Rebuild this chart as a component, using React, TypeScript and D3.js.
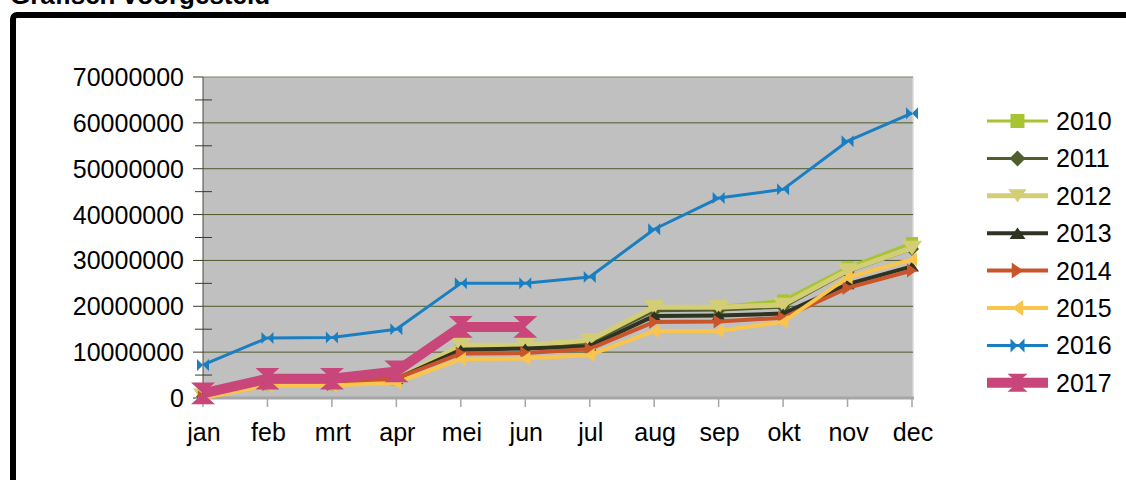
import React from "react";
import * as d3 from "d3";

const months = ["jan", "feb", "mrt", "apr", "mei", "jun", "jul", "aug", "sep", "okt", "nov", "dec"];
const yTicks = [0, 10000000, 20000000, 30000000, 40000000, 50000000, 60000000, 70000000];
const yMinor = [5000000, 15000000, 25000000, 35000000, 45000000, 55000000, 65000000];

const s2010 = [0.3, 3.0, 3.0, 4.0, 11.0, 11.2, 12.3, 19.9, 19.9, 21.3, 28.5, 33.8];
const s2011 = [0.3, 3.0, 3.0, 4.2, 11.2, 11.4, 12.0, 19.0, 19.2, 19.8, 27.5, 32.5];
const s2012 = [0.5, 3.0, 3.0, 4.0, 11.5, 11.5, 12.6, 19.8, 19.8, 20.3, 27.8, 32.7];
const s2013 = [0.2, 3.2, 3.2, 4.2, 10.5, 10.8, 11.3, 17.9, 18.0, 18.4, 24.8, 28.7];
const s2014 = [0.1, 3.0, 3.0, 4.3, 9.7, 9.8, 10.7, 16.6, 16.7, 17.5, 24.0, 27.8];
const s2015 = [0.0, 2.7, 2.7, 3.3, 8.5, 8.6, 9.4, 14.6, 14.6, 16.6, 26.3, 30.2];
const s2016 = [7.2, 13.1, 13.2, 15.0, 25.0, 25.0, 26.4, 36.8, 43.6, 45.5, 56.0, 62.1];
const s2017 = [1.0, 4.2, 4.2, 5.8, 15.5, 15.5];

const seriesNames = ["2010", "2011", "2012", "2013", "2014", "2015", "2016", "2017"];
const seriesValues = [s2010, s2011, s2012, s2013, s2014, s2015, s2016, s2017];
const seriesColors = ["#a9c432", "#4f5e2c", "#d3ce76", "#2f3322", "#c9552a", "#f9c54d", "#1a7fc0", "#c8467a"];
const seriesWidths = [3, 3, 5, 4, 4, 4, 3, 10];
const seriesMarkers = ["square", "diamond", "triDown", "triUp", "triRight", "triLeft", "bowtie", "hourglass"];
const markerSizes = [6, 7, 10, 7, 7, 7, 6, 12];

function markerPath(type: string, s: number): string {
  const h = s * 0.72;
  switch (type) {
    case "square":
      return `M${-s},${-s}h${2 * s}v${2 * s}h${-2 * s}Z`;
    case "diamond":
      return `M0,${-s}L${s},0L0,${s}L${-s},0Z`;
    case "triDown":
      return `M${-s},${-h}L${s},${-h}L0,${h}Z`;
    case "triUp":
      return `M${-s},${h}L${s},${h}L0,${-h}Z`;
    case "triRight":
      return `M${-h},${-s}L${-h},${s}L${h},0Z`;
    case "triLeft":
      return `M${h},${-s}L${h},${s}L${-h},0Z`;
    case "bowtie":
      return `M${-s},${-s}L0,0L${-s},${s}ZM${s},${-s}L0,0L${s},${s}Z`;
    case "hourglass":
      return `M${-s},${-s * 0.9}L${s},${-s * 0.9}L0,0ZM${-s},${s * 0.9}L${s},${s * 0.9}L0,0Z`;
    default:
      return "";
  }
}

const FONT = "'Liberation Sans', Arial, sans-serif";

export default function App() {
  const W = 1126;
  const H = 480;
  const left = 203;
  const right = 912;
  const top = 77;
  const bottom = 398;

  const x = d3.scalePoint<string>().domain(months).range([left, right]);
  const y = d3.scaleLinear().domain([0, 70000000]).range([bottom, top]);

  const line = d3
    .line<number>()
    .x((_, i) => x(months[i]) as number)
    .y((d) => y(d * 1000000));

  const legendX0 = 987;
  const legendX1 = 1048;
  const legendY0 = 121;
  const legendStep = 37.4;

  return (
    <svg width={W} height={H} style={{ position: "absolute", left: 0, top: 0 }} fontFamily={FONT}>
      <rect x={0} y={0} width={W} height={H} fill="#ffffff" />
      <text x={10} y={4} fontSize={26} fontWeight="bold" fill="#000">
        Grafisch voorgesteld
      </text>
      <rect x={13} y={15} width={W + 20} height={H + 20} rx={4} fill="none" stroke="#000" strokeWidth={6} />

      {/* plot area */}
      <rect x={left} y={top} width={913 - left} height={bottom - top} fill="#c0c0c0" />
      <line x1={913} x2={913} y1={top} y2={bottom} stroke="#d8d8d8" strokeWidth={1.5} />

      {/* gridlines */}
      {yTicks.map((t) => (
        <line
          key={"g" + t}
          x1={left}
          x2={913}
          y1={y(t)}
          y2={y(t)}
          stroke={t === 70000000 ? "#7c7f6a" : "#4d5a2b"}
          strokeWidth={1}
        />
      ))}

      {/* y axis */}
      <line x1={left} x2={left} y1={top} y2={bottom} stroke="#4a4a40" strokeWidth={1} />
      {yTicks.map((t) => (
        <line key={"mt" + t} x1={193} x2={left} y1={y(t)} y2={y(t)} stroke="#3a3a30" strokeWidth={1} />
      ))}
      {yMinor.map((t) => (
        <line key={"nt" + t} x1={195} x2={212} y1={y(t)} y2={y(t)} stroke="#3a3a30" strokeWidth={1} />
      ))}
      {yTicks.map((t) => (
        <text key={"yl" + t} x={184} y={y(t)} dy="0.36em" textAnchor="end" fontSize={25} fill="#000">
          {String(t)}
        </text>
      ))}

      {/* x axis */}
      <line x1={left} x2={914} y1={bottom} y2={bottom} stroke="#a6a6a6" strokeWidth={3} />
      {months.map((m) => (
        <line key={"xt" + m} x1={x(m)} x2={x(m)} y1={bottom} y2={407} stroke="#a6a6a6" strokeWidth={1.5} />
      ))}
      {months.map((m) => (
        <text key={"xl" + m} x={(x(m) as number) + 1} y={441} textAnchor="middle" fontSize={25} fill="#000">
          {m}
        </text>
      ))}

      {/* series */}
      {seriesValues.map((vals, si) => (
        <g key={"s" + si}>
          <path
            d={line(vals) || ""}
            fill="none"
            stroke={seriesColors[si]}
            strokeWidth={seriesWidths[si]}
            strokeLinejoin="round"
          />
          {vals.map((v, i) => (
            <path
              key={i}
              d={markerPath(seriesMarkers[si], markerSizes[si])}
              transform={`translate(${x(months[i])},${y(v * 1000000)})`}
              fill={seriesColors[si]}
            />
          ))}
        </g>
      ))}

      {/* legend */}
      {seriesNames.map((n, i) => {
        const ly = legendY0 + i * legendStep;
        return (
          <g key={"lg" + n}>
            <line x1={legendX0} x2={legendX1} y1={ly} y2={ly} stroke={seriesColors[i]} strokeWidth={seriesWidths[i]} />
            <path
              d={markerPath(seriesMarkers[i], i === 7 ? 10 : i === 2 ? 9 : markerSizes[i] + 1)}
              transform={`translate(${(legendX0 + legendX1) / 2},${ly})`}
              fill={seriesColors[i]}
            />
            <text x={1056} y={ly} dy="0.36em" fontSize={25} fill="#000">
              {n}
            </text>
          </g>
        );
      })}
    </svg>
  );
}
